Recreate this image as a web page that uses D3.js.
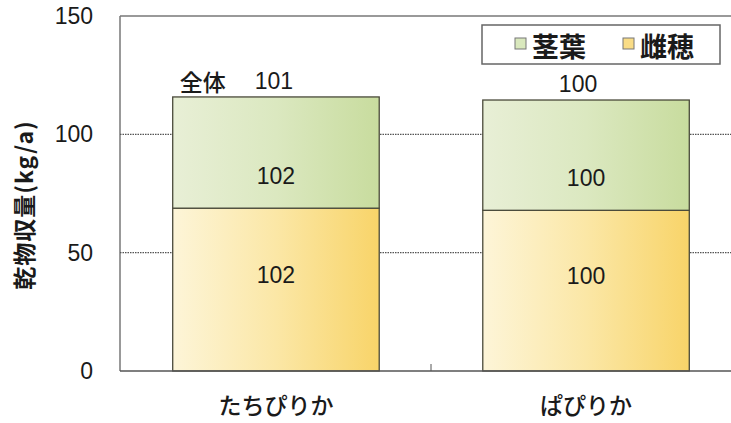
<!DOCTYPE html>
<html>
<head>
<meta charset="utf-8">
<script src="https://cdn.jsdelivr.net/npm/d3@7"></script>
<style>
  html, body { margin: 0; padding: 0; background: #fff; }
  svg { display: block; }
  text { fill: #1a1a1a; }
</style>
</head>
<body>
<svg id="chart" width="731" height="423"></svg>
<script>
// Varieties on the x axis
const varieties = ["たちぴりか", "ぱぴりか"];
// Dry matter yield (kg/a) per part
const earYield = [68.8, 67.9];     // 雌穂
const stoverYield = [47.0, 46.6];  // 茎葉
// Relative index labels (ぱぴりか = 100)
const earIndex = ["102", "100"];
const stoverIndex = ["102", "100"];
const totalIndex = ["101", "100"];
const totalPrefix = ["全体", ""];
const yTicks = [0, 50, 100, 150];
const seriesNames = ["茎葉", "雌穂"];

const svg = d3.select("#chart");
const m = { left: 120, top: 16, bottom: 52 };
const W = 731, H = 423;
const plotH = H - m.top - m.bottom;

const x = d3.scaleBand().domain(varieties).range([m.left, m.left + 622])
  .paddingInner(0.334).paddingOuter(0.17);
const y = d3.scaleLinear().domain([0, 150]).range([m.top + plotH, m.top]);

const defs = svg.append("defs");
const gEar = defs.append("linearGradient").attr("id", "gEar").attr("x1", 0).attr("x2", 1).attr("y1", 0).attr("y2", 0);
gEar.append("stop").attr("offset", 0).attr("stop-color", "#fdf5d8");
gEar.append("stop").attr("offset", 0.5).attr("stop-color", "#fbe7a6");
gEar.append("stop").attr("offset", 1).attr("stop-color", "#f8d469");
const gSt = defs.append("linearGradient").attr("id", "gSt").attr("x1", 0).attr("x2", 1).attr("y1", 0).attr("y2", 0);
gSt.append("stop").attr("offset", 0).attr("stop-color", "#e8efd6");
gSt.append("stop").attr("offset", 0.5).attr("stop-color", "#dbe8c0");
gSt.append("stop").attr("offset", 1).attr("stop-color", "#c8dc9e");

// Frame (top and left) and gridlines
svg.append("line").attr("x1", m.left).attr("x2", W).attr("y1", y(150)).attr("y2", y(150))
  .attr("stroke", "#777").attr("stroke-width", 1.5);
svg.append("line").attr("x1", m.left).attr("x2", m.left).attr("y1", y(150)).attr("y2", y(0))
  .attr("stroke", "#777").attr("stroke-width", 1.5);
svg.selectAll(".grid").data([50, 100]).enter().append("line")
  .attr("x1", m.left).attr("x2", W).attr("y1", d => y(d)).attr("y2", d => y(d))
  .attr("stroke", "#555").attr("stroke-width", 1.3).attr("stroke-dasharray", "1.5,1");

// Y axis
const yAxis = d3.axisLeft(y).tickValues(yTicks).tickSize(0).tickPadding(0);
const ya = svg.append("g").attr("transform", `translate(${m.left - 27},0)`).call(yAxis);
ya.select(".domain").remove();
ya.selectAll("text").attr("font-family", "Liberation Sans, Arial, sans-serif")
  .attr("font-size", 23).attr("fill", "#1a1a1a");

// Stacked bars
const bw = x.bandwidth();
varieties.forEach((v, i) => {
  const x0 = x(v);
  svg.append("rect").attr("x", x0).attr("width", bw)
    .attr("y", y(earYield[i])).attr("height", y(0) - y(earYield[i]))
    .attr("fill", "url(#gEar)").attr("stroke", "#4a4a3a").attr("stroke-width", 1.3);
  const top = earYield[i] + stoverYield[i];
  svg.append("rect").attr("x", x0).attr("width", bw)
    .attr("y", y(top)).attr("height", y(earYield[i]) - y(top))
    .attr("fill", "url(#gSt)").attr("stroke", "#4a4a3a").attr("stroke-width", 1.3);
});

// X axis line and middle tick
const midX = (x(varieties[0]) + bw + x(varieties[1])) / 2;
svg.append("line").attr("x1", m.left).attr("x2", W).attr("y1", y(0)).attr("y2", y(0))
  .attr("stroke", "#555").attr("stroke-width", 1.5);
svg.append("line").attr("x1", midX).attr("x2", midX)
  .attr("y1", y(0)).attr("y2", y(0) - 7).attr("stroke", "#555").attr("stroke-width", 1);

// Category labels
const xa = svg.append("g").attr("transform", `translate(0,${y(0)})`)
  .call(d3.axisBottom(x).tickSize(0).tickPadding(27));
xa.select(".domain").remove();
xa.selectAll("text").attr("font-family", "Noto Sans CJK JP, sans-serif")
  .attr("font-size", 23).attr("font-weight", 500).attr("fill", "#1a1a1a");

// Value labels
const numFont = "Liberation Sans, Arial, sans-serif";
varieties.forEach((v, i) => {
  const cx = x(v) + bw / 2;
  svg.append("text").attr("x", cx).attr("y", y(earYield[i] * 0.59))
    .attr("text-anchor", "middle").attr("dominant-baseline", "central")
    .attr("font-family", numFont).attr("font-size", 23).text(earIndex[i]);
  svg.append("text").attr("x", cx).attr("y", y(earYield[i] + stoverYield[i] * 0.29))
    .attr("text-anchor", "middle").attr("dominant-baseline", "central")
    .attr("font-family", numFont).attr("font-size", 23).text(stoverIndex[i]);
  const ty = y(earYield[i] + stoverYield[i]) - 16;
  if (totalPrefix[i]) {
    svg.append("text").attr("x", x(v) + 7).attr("y", ty)
      .attr("dominant-baseline", "central")
      .attr("font-family", "Noto Sans CJK JP, sans-serif").attr("font-size", 23).attr("font-weight", 500)
      .text(totalPrefix[i]);
    svg.append("text").attr("x", cx - 2).attr("y", ty)
      .attr("text-anchor", "middle").attr("dominant-baseline", "central")
      .attr("font-family", numFont).attr("font-size", 23).text(totalIndex[i]);
  } else {
    svg.append("text").attr("x", cx - 8).attr("y", ty)
      .attr("text-anchor", "middle").attr("dominant-baseline", "central")
      .attr("font-family", numFont).attr("font-size", 23).text(totalIndex[i]);
  }
});

// Y axis title
svg.append("text").attr("transform", "translate(23,205) rotate(-90)")
  .attr("text-anchor", "middle").attr("dominant-baseline", "central")
  .attr("font-family", "Noto Sans CJK JP, sans-serif").attr("font-size", 23).attr("font-weight", 700)
  .attr("letter-spacing", 1)
  .text("乾物収量(kg/a)");

// Legend
const lg = svg.append("g").attr("transform", "translate(482,25)");
lg.append("rect").attr("width", 238).attr("height", 39).attr("fill", "#fff")
  .attr("stroke", "#666").attr("stroke-width", 1.5);
const legendFill = ["#d9e8bd", "#f9dc86"];
const legendX = [33, 141];
seriesNames.forEach((s, i) => {
  lg.append("rect").attr("x", legendX[i]).attr("y", 13).attr("width", 11).attr("height", 11)
    .attr("fill", legendFill[i]).attr("stroke", "#777").attr("stroke-width", 1);
  lg.append("text").attr("x", legendX[i] + 17).attr("y", 20)
    .attr("dominant-baseline", "central")
    .attr("font-family", "Noto Sans CJK JP, sans-serif").attr("font-size", 27).attr("font-weight", 700)
    .text(s);
});
</script>
</body>
</html>
